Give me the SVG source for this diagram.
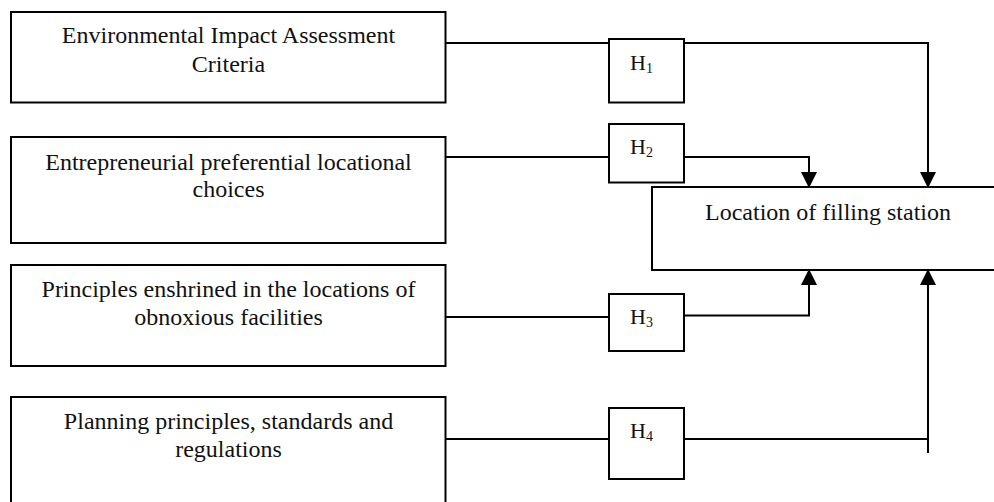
<svg xmlns="http://www.w3.org/2000/svg" width="994" height="502" viewBox="0 0 994 502">
<style>
.box{fill:#fff;stroke:#000;stroke-width:2}
.t{font-family:"Liberation Serif","Times New Roman",serif;font-size:24px;fill:#111;text-anchor:middle}
.h{font-family:"Liberation Serif","Times New Roman",serif;font-size:22px;fill:#111}
.sub{font-size:14px}
.ln{fill:none;stroke:#000;stroke-width:2}
</style>
<defs>
<marker id="ah" markerUnits="userSpaceOnUse" markerWidth="16" markerHeight="16" viewBox="0 0 16 16" refX="16" refY="8" orient="auto">
<path d="M0,0 L16,8 L0,16 Z" fill="#000"/>
</marker>
</defs>
<rect width="994" height="502" fill="#fff"/>
<g id="connectors">
<path class="ln" d="M446,43 H609 M684,43 H928 V188" marker-end="url(#ah)"/>
<path class="ln" d="M446,157 H609 M684,157 H809 V188" marker-end="url(#ah)"/>
<path class="ln" d="M446,317 H609 M684,315.5 H809 V269" marker-end="url(#ah)"/>
<path class="ln" d="M446,439 H609 M684,439 H928 M928,453 V269" marker-end="url(#ah)"/>
</g>
<g id="n1">
<rect class="box" x="11" y="12" width="434.5" height="90.5"/>
<text class="t" x="228.5" y="43">Environmental Impact Assessment</text>
<text class="t" x="228.5" y="71.5">Criteria</text>
</g>
<g id="n2">
<rect class="box" x="11" y="137" width="434.5" height="106"/>
<text class="t" x="228.5" y="169.5">Entrepreneurial preferential locational</text>
<text class="t" x="228.5" y="197">choices</text>
</g>
<g id="n3">
<rect class="box" x="11" y="265" width="434.5" height="101"/>
<text class="t" x="228.5" y="297">Principles enshrined in the locations of</text>
<text class="t" x="228.5" y="325">obnoxious  facilities</text>
</g>
<g id="n4">
<rect class="box" x="11" y="397" width="434.5" height="120"/>
<text class="t" x="228.5" y="428.5">Planning principles, standards and</text>
<text class="t" x="228.5" y="457">regulations</text>
</g>
<g id="h1">
<rect class="box" x="609" y="39" width="75" height="63.5"/>
<text class="h" x="630" y="70">H<tspan class="sub" dy="3">1</tspan></text>
</g>
<g id="h2">
<rect class="box" x="609" y="124" width="75" height="58.5"/>
<text class="h" x="630" y="154">H<tspan class="sub" dy="3">2</tspan></text>
</g>
<g id="h3">
<rect class="box" x="609" y="294" width="75" height="57"/>
<text class="h" x="630" y="324">H<tspan class="sub" dy="3">3</tspan></text>
</g>
<g id="h4">
<rect class="box" x="609" y="408" width="75" height="71"/>
<text class="h" x="630" y="438">H<tspan class="sub" dy="3">4</tspan></text>
</g>
<g id="target">
<rect class="box" x="652" y="187" width="400" height="83"/>
<text class="t" x="828" y="220">Location of filling station</text>
</g>
</svg>
